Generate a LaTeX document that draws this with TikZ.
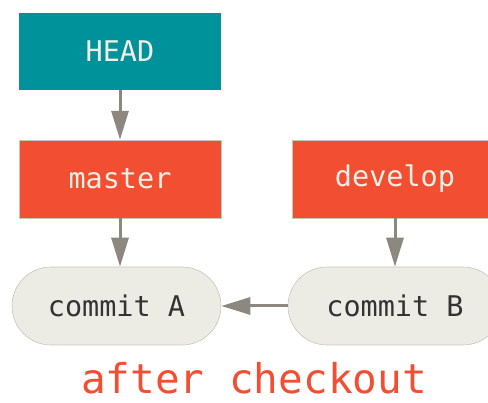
\documentclass[tikz,border=0pt]{standalone}
\usepackage{fontspec}
\setmonofont{DejaVu Sans Mono}
\usepackage{tikz}
\usetikzlibrary{arrows.meta,positioning}
\definecolor{gitteal}{RGB}{0,146,155}
\definecolor{gitred}{RGB}{241,78,50}
\definecolor{gitgray}{RGB}{140,135,127}
\definecolor{gitpaper}{RGB}{237,236,228}
\definecolor{gitline}{RGB}{200,197,188}
\definecolor{gitlight}{RGB}{242,240,230}
\definecolor{gitdark}{RGB}{51,51,51}

\begin{document}
\begin{tikzpicture}[
      x=1pt, y=1pt,
      ref/.style={minimum height=78pt, inner sep=0pt, font=\ttfamily\fontsize{28.5}{29}\selectfont, text=gitlight},
      branch/.style={ref, fill=gitred, draw=gitline, line width=0.4pt},
      commit/.style={minimum height=78pt, inner sep=0pt, rounded corners=39pt, fill=gitpaper, draw=gitline, line width=0.6pt, text=gitdark, font=\ttfamily\fontsize{28.5}{29}\selectfont},
      link/.style={draw=gitgray, line width=3pt, -{Triangle[length=29pt,width=17pt]}}
    ]
      \useasboundingbox (0,0) rectangle (488,403);
      \begin{scope}
      \clip (0,0) rectangle (488,403);

      % Pointers
      \node[ref, fill=gitteal, minimum width=202pt, minimum height=77pt] (head) at (120,351.5) {HEAD};
      \node[branch, minimum width=202pt] (master) at (120,224) {master};
      \node[branch, minimum width=206pt] (develop) at (395,224) {develop};

      % Commits
      \node[commit, minimum width=209pt] (commitA) at (116.5,97) {commit A};
      \node[commit, minimum width=214pt] (commitB) at (395,97) {commit B};

      \draw[link] (head) -- (master);
      \draw[link] (master.south -| 120,0) -- (commitA.north -| 120,0);
      \draw[link] (develop) -- (commitB);
      \draw[link] (commitB) -- (commitA);
      \end{scope}

      % Caption
      \node[anchor=base, inner sep=0pt, text=gitred, font=\ttfamily\fontsize{41}{41}\selectfont] (caption) at (254,9) {after checkout};
    \end{tikzpicture}
\end{document}
